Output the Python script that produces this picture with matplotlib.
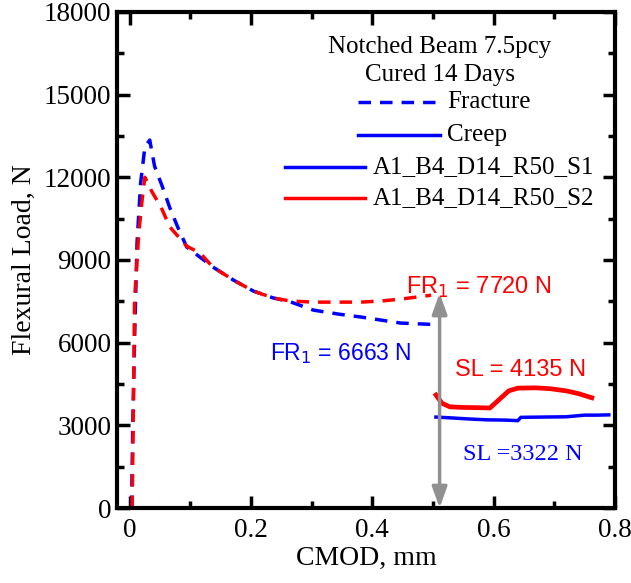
import matplotlib
matplotlib.use("Agg")
import matplotlib.pyplot as plt
from matplotlib.lines import Line2D
from matplotlib.ticker import MultipleLocator

# Fracture (dashed) curves
frac_s1_x = [0.003, 0.005, 0.008, 0.012, 0.018, 0.025, 0.033, 0.041, 0.054, 0.066, 0.079,
             0.094, 0.116, 0.137, 0.171, 0.204, 0.237, 0.265, 0.303, 0.343, 0.381, 0.414,
             0.447, 0.497]
frac_s1_y = [0, 3000, 6100, 9600, 11800, 13100, 13350, 12400, 11650, 10900, 10200,
             9470, 9100, 8745, 8270, 7870, 7620, 7480, 7180, 7040, 6930, 6820,
             6710, 6663]
frac_s2_x = [0.004, 0.006, 0.008, 0.015, 0.021, 0.025, 0.036, 0.052, 0.066, 0.094, 0.116,
             0.137, 0.171, 0.204, 0.237, 0.265, 0.303, 0.343, 0.381, 0.414, 0.447, 0.497]
frac_s2_y = [0, 3500, 7550, 10000, 11300, 12000, 11500, 10900, 10200, 9500, 9250,
             8745, 8270, 7870, 7620, 7510, 7470, 7470, 7470, 7510, 7580, 7720]

# Creep (solid) curves
creep_s1_x = [0.505, 0.53, 0.56, 0.589, 0.62, 0.64, 0.645, 0.68, 0.72, 0.75, 0.77, 0.79]
creep_s1_y = [3300, 3270, 3230, 3200, 3190, 3170, 3290, 3300, 3310, 3370, 3370, 3380]
creep_s2_x = [0.505, 0.515, 0.528, 0.55, 0.575, 0.594, 0.61, 0.625, 0.64, 0.67, 0.693,
              0.72, 0.74, 0.762]
creep_s2_y = [4100, 3800, 3670, 3650, 3640, 3630, 3950, 4250, 4350, 4360, 4330,
              4250, 4150, 4000]

fr_s1, fr_s2 = 6663, 7720
sl_s1, sl_s2 = 3322, 4135
arrow_x = 0.511

BLUE = "#0000ff"
RED = "#ff0000"
GRAY = "#909090"

fig = plt.figure(figsize=(6.31, 5.83), dpi=100)
ax = fig.add_axes([0.1854, 0.1286, 0.789, 0.851])

DASH = (0, (3.6, 2.6))
ax.plot(frac_s1_x, frac_s1_y, color=BLUE, lw=2.5, ls=DASH)
ax.plot(frac_s2_x, frac_s2_y, color=RED, lw=2.5, ls=DASH)
ax.plot(creep_s1_x, creep_s1_y, color=BLUE, lw=2.5)
ax.plot(creep_s2_x, creep_s2_y, color=RED, lw=3.4)

ax.annotate("", xy=(arrow_x, 0), xytext=(arrow_x, fr_s2 + 80),
            arrowprops=dict(arrowstyle="<|-|>,head_length=0.7,head_width=0.25",
                            color=GRAY, lw=2.5, mutation_scale=18,
                            shrinkA=0, shrinkB=0))

ax.set_xlim(-0.021, 0.8)
ax.set_ylim(0, 18000)
ax.xaxis.set_major_locator(MultipleLocator(0.2))
ax.xaxis.set_minor_locator(MultipleLocator(0.1))
ax.yaxis.set_major_locator(MultipleLocator(3000))
ax.yaxis.set_minor_locator(MultipleLocator(1500))
ax.set_xticks([0, 0.2, 0.4, 0.6, 0.8])
ax.set_xticklabels(["0", "0.2", "0.4", "0.6", "0.8"])

serif = ["Liberation Serif", "DejaVu Serif"]
sans = ["Liberation Sans", "DejaVu Sans"]

ax.tick_params(which="both", direction="in", top=True, right=True, width=2.5)
ax.tick_params(which="major", length=9)
ax.tick_params(which="minor", length=5)
ax.tick_params(axis="both", labelsize=19.5)
ax.tick_params(axis="y", pad=4)
ax.tick_params(axis="x", pad=7)
for lab in ax.get_xticklabels() + ax.get_yticklabels():
    lab.set_fontfamily(serif)
for sp in ax.spines.values():
    sp.set_linewidth(3)

ax.set_xlabel("CMOD, mm", fontsize=20, family=serif, labelpad=2)
ax.set_ylabel("Flexural Load, N", fontsize=20, family=serif, labelpad=5)

# Annotation texts
ax.text(0.575, 8020, "FR$_1$ = 7720 N", color=RED, fontsize=17, family=sans,
        ha="center", va="center")
ax.text(0.348, 5620, "FR$_1$ = 6663 N", color=BLUE, fontsize=16.5, family=sans,
        ha="center", va="center")
ax.text(0.644, 5010, "SL = 4135 N", color=RED, fontsize=17, family=sans,
        ha="center", va="center")
ax.text(0.648, 1950, "SL =3322 N", color=BLUE, fontsize=17.5, family=serif,
        ha="center", va="center")

# Legend block (axes fraction)
tr = ax.transAxes
ax.text(0.649, 0.929, "Notched Beam 7.5pcy", transform=tr, fontsize=18, family=serif,
        ha="center", va="center")
ax.text(0.649, 0.873, "Cured 14 Days", transform=tr, fontsize=18, family=serif,
        ha="center", va="center")
legend_items = [
    (0.819, "Fracture", BLUE, DASH, 0.484, 0.639, 0.663),
    (0.752, "Creep", BLUE, "-", 0.484, 0.649, 0.663),
    (0.6875, "A1_B4_D14_R50_S1", BLUE, "-", 0.337, 0.498, 0.514),
    (0.625, "A1_B4_D14_R50_S2", RED, "-", 0.337, 0.498, 0.514),
]
for yy, label, col, ls, x0, x1, xt in legend_items:
    ax.add_line(Line2D([x0, x1], [yy, yy], transform=tr, color=col, lw=2.5, ls=ls))
    ax.text(xt, yy, label, transform=tr, fontsize=18, family=serif,
            ha="left", va="center")

fig.savefig("out.png", dpi=100)
